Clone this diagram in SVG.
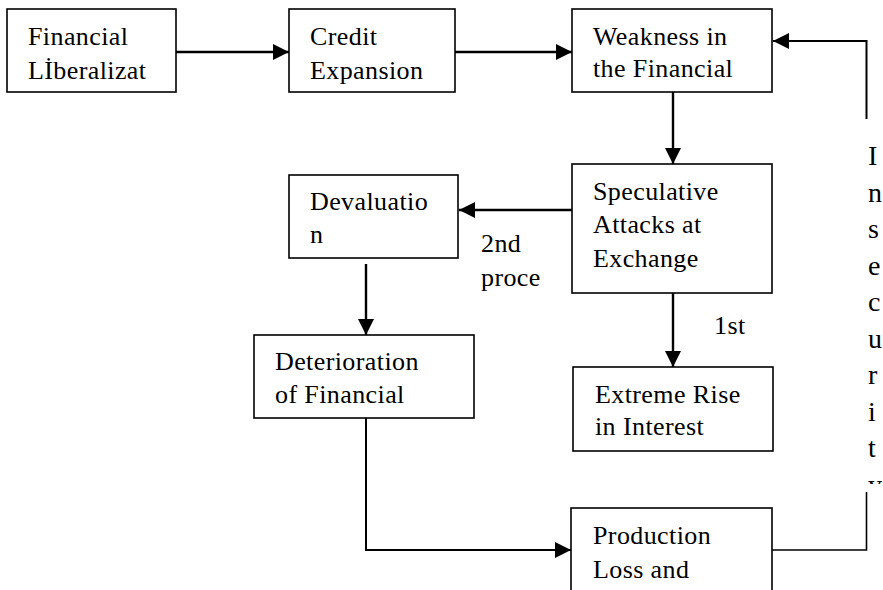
<svg xmlns="http://www.w3.org/2000/svg" width="883" height="590" viewBox="0 0 883 590">
<style>
.box{fill:#fff;stroke:#000;stroke-width:1.6}
.t{font-family:"Liberation Serif","Times New Roman",serif;font-size:26px;letter-spacing:0.4px;fill:#000}
.v{font-family:"Liberation Serif","Times New Roman",serif;font-size:28px;fill:#000}
.a{fill:none;stroke:#000;stroke-width:2.4}
.l{fill:none;stroke:#000;stroke-width:1.6}
</style>
<defs>
<marker id="ah" markerUnits="userSpaceOnUse" markerWidth="16" markerHeight="16" refX="16" refY="8" orient="auto">
<path d="M0,0 L16,8 L0,16 Z" fill="#000"/>
</marker>
<clipPath id="vc"><rect x="850" y="0" width="33" height="484"/></clipPath>
</defs>
<g id="connectors">
<line class="a" x1="176" y1="52" x2="289" y2="52" marker-end="url(#ah)"/>
<line class="a" x1="455" y1="52" x2="572" y2="52" marker-end="url(#ah)"/>
<line class="a" x1="673" y1="92" x2="673" y2="164" marker-end="url(#ah)"/>
<line class="a" x1="572" y1="210" x2="459" y2="210" marker-end="url(#ah)"/>
<line class="a" x1="366" y1="264" x2="366" y2="335" marker-end="url(#ah)"/>
<line class="a" x1="673" y1="293" x2="673" y2="367" marker-end="url(#ah)"/>
<polyline class="l" style="stroke-width:2" points="366,418 366,550 571,550" marker-end="url(#ah)"/>
<polyline class="l" points="772,550 866.5,550 866.5,492"/>
<polyline class="l" style="stroke-width:2" points="866.5,119 866.5,41 773,41" marker-end="url(#ah)"/>
</g>
<g id="n1"><rect class="box" x="7" y="9" width="169" height="83"/>
<text class="t" x="28" y="45">Financial</text><text class="t" x="28" y="79">Lİberalizat</text></g>
<g id="n2"><rect class="box" x="289" y="9" width="166" height="83"/>
<text class="t" x="310" y="45">Credit</text><text class="t" x="310" y="79">Expansion</text></g>
<g id="n3"><rect class="box" x="572" y="9" width="200" height="83"/>
<text class="t" x="593" y="45">Weakness in</text><text class="t" x="593" y="77">the Financial</text></g>
<g id="n4"><rect class="box" x="572" y="164" width="200" height="129"/>
<text class="t" x="593" y="200">Speculative</text><text class="t" x="593" y="233">Attacks at</text><text class="t" x="593" y="267">Exchange</text></g>
<g id="n5"><rect class="box" x="289" y="175" width="169" height="83"/>
<text class="t" x="310" y="210">Devaluatio</text><text class="t" x="310" y="243">n</text></g>
<g id="n6"><rect class="box" x="254" y="335" width="220" height="83"/>
<text class="t" x="275" y="370">Deterioration</text><text class="t" x="275" y="403">of Financial</text></g>
<g id="n7"><rect class="box" x="573" y="367" width="200" height="84"/>
<text class="t" x="595" y="403">Extreme Rise</text><text class="t" x="595" y="435">in Interest</text></g>
<g id="n8"><rect class="box" x="571" y="508" width="201" height="100"/>
<text class="t" x="593" y="544">Production</text><text class="t" x="593" y="578">Loss and</text></g>
<g id="labels">
<text class="t" x="481" y="252">2nd</text>
<text class="t" x="481" y="286">proce</text>
<text class="t" x="714" y="334">1st</text>
</g>
<g id="insecurity" clip-path="url(#vc)">
<text class="v" x="868" y="165">I</text>
<text class="v" x="868" y="202">n</text>
<text class="v" x="868" y="238">s</text>
<text class="v" x="868" y="275">e</text>
<text class="v" x="868" y="311">c</text>
<text class="v" x="868" y="348">u</text>
<text class="v" x="868" y="384">r</text>
<text class="v" x="868" y="421">i</text>
<text class="v" x="868" y="457">t</text>
<text class="v" x="868" y="494">y</text>
</g>
</svg>
